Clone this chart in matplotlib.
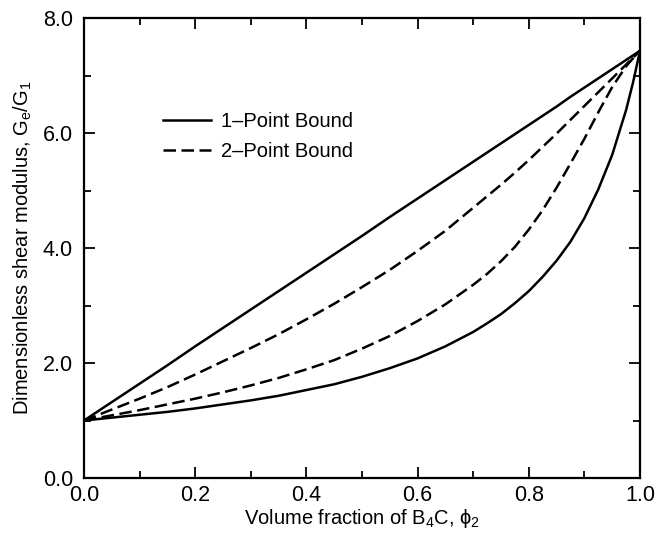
import numpy as np
import matplotlib
matplotlib.use("Agg")
import matplotlib.pyplot as plt
from matplotlib.ticker import MultipleLocator, FormatStrFormatter

plt.rcParams['font.family'] = ['Liberation Sans', 'DejaVu Sans']
plt.rcParams['mathtext.fontset'] = 'custom'
plt.rcParams['mathtext.rm'] = 'Liberation Sans'
plt.rcParams['mathtext.it'] = 'Liberation Sans'

# volume fraction of B4C
phi = [0.0, 0.05, 0.1, 0.15, 0.2, 0.25, 0.3, 0.35, 0.4, 0.45, 0.5, 0.55,
       0.6, 0.65, 0.7, 0.725, 0.75, 0.775, 0.8, 0.825, 0.85, 0.875, 0.9,
       0.925, 0.95, 0.975, 0.9875, 1.0]

# 1-point bounds (upper / lower)
one_upper = [1.00, 1.32, 1.64, 1.96, 2.29, 2.61, 2.93, 3.25, 3.57, 3.89, 4.21, 4.54,
             4.86, 5.18, 5.50, 5.66, 5.82, 5.98, 6.14, 6.30, 6.46, 6.63, 6.79,
             6.95, 7.11, 7.27, 7.35, 7.43]
one_lower = [1.00, 1.05, 1.10, 1.15, 1.21, 1.28, 1.35, 1.43, 1.53, 1.63, 1.76, 1.91,
             2.08, 2.29, 2.54, 2.69, 2.85, 3.04, 3.25, 3.50, 3.78, 4.11, 4.52,
             5.02, 5.62, 6.40, 6.88, 7.43]

# 2-point bounds (upper / lower)
two_upper = [1.00, 1.19, 1.38, 1.58, 1.80, 2.03, 2.26, 2.50, 2.76, 3.03, 3.32, 3.62,
             3.95, 4.30, 4.70, 4.90, 5.10, 5.31, 5.53, 5.76, 5.99, 6.23, 6.47,
             6.71, 6.95, 7.19, 7.31, 7.43]
two_lower = [1.00, 1.09, 1.18, 1.28, 1.38, 1.49, 1.61, 1.74, 1.89, 2.05, 2.25, 2.47,
             2.73, 3.02, 3.36, 3.55, 3.77, 4.02, 4.32, 4.66, 5.05, 5.47, 5.90,
             6.36, 6.80, 7.16, 7.30, 7.43]

fig = plt.figure(figsize=(6.65, 5.33), dpi=100)
ax = fig.add_axes([84 / 665, 55 / 533, 556 / 665, 460 / 533])

lw = 1.8
ax.plot(phi, one_upper, color='black', lw=lw, label='1\u2013Point Bound')
ax.plot(phi, one_lower, color='black', lw=lw)
ax.plot(phi, two_upper, color='black', lw=lw, dashes=(5, 2.2), label='2\u2013Point Bound')
ax.plot(phi, two_lower, color='black', lw=lw, dashes=(5, 2.2))

ax.set_xlim(0, 1)
ax.set_ylim(0, 8)
ax.xaxis.set_major_locator(MultipleLocator(0.2))
ax.xaxis.set_minor_locator(MultipleLocator(0.1))
ax.yaxis.set_major_locator(MultipleLocator(2.0))
ax.yaxis.set_minor_locator(MultipleLocator(1.0))
ax.xaxis.set_major_formatter(FormatStrFormatter('%.1f'))
ax.yaxis.set_major_formatter(FormatStrFormatter('%.1f'))
ax.tick_params(which='both', direction='in', top=True, right=True, width=1.3,
               labelsize=15.5)
ax.tick_params(which='major', length=8)
ax.tick_params(which='minor', length=5)
ax.tick_params(axis='x', which='major', pad=5)
ax.tick_params(axis='y', which='major', pad=8)
for s in ax.spines.values():
    s.set_linewidth(1.6)

ax.set_xlabel('Volume fraction of B$_4$C, $\\phi_2$', fontsize=14.5, labelpad=1)
ax.set_ylabel('Dimensionless shear modulus, G$_e$/G$_1$', fontsize=14.5, labelpad=6)

ax.legend(loc='upper left', bbox_to_anchor=(0.142, 0.795), frameon=False,
          fontsize=14.5, handlelength=2.4, handletextpad=0.5, labelspacing=0.55,
          borderpad=0, borderaxespad=0)

fig.savefig('out.png', dpi=100)
